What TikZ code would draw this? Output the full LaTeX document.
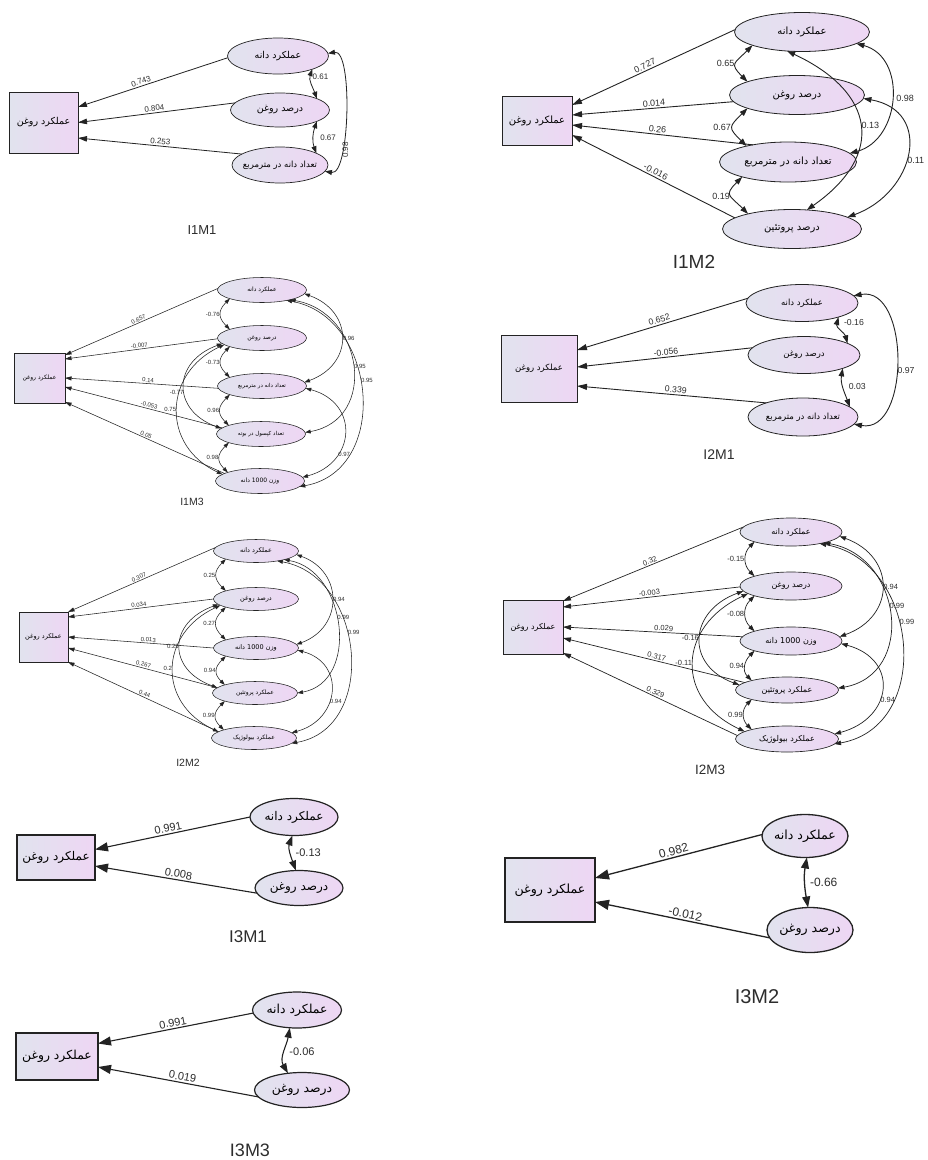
\documentclass[tikz,border=0pt]{standalone}
\usepackage{fontspec}
\setmainfont{Liberation Sans}
\newfontfamily\fa[Script=Arabic]{DejaVu Sans}
\TeXXeTstate=1
\usetikzlibrary{arrows.meta,shapes.geometric}
\definecolor{gA}{RGB}{225,227,238}
\definecolor{gB}{RGB}{238,214,244}
\definecolor{ln}{RGB}{35,35,35}
\definecolor{tx}{RGB}{45,45,45}
\newcommand{\fatx}[2]{\makebox[0pt]{\fa\fontsize{#1}{#1}\selectfont #2}}
\newcommand{\numfont}[1]{\fontsize{#1}{#1}\selectfont}
\tikzset{
  lat/.style 2 args={ellipse, draw=ln, left color=gA, right color=gB, minimum width=#1, minimum height=#2, inner sep=0pt, outer sep=0pt},
  obs/.style 2 args={rectangle, draw=ln, left color=gA, right color=gB, minimum width=#1, minimum height=#2, inner sep=0pt, outer sep=0pt},
  arw/.style 2 args={-{Triangle[length=#1,width=#2]}, draw=ln},
  carw/.style 2 args={{Triangle[length=#1,width=#2]}-{Triangle[length=#1,width=#2]}, draw=ln},
  ttl/.style={text=tx, inner sep=0pt},
}
\begin{document}
\begin{tikzpicture}[x=1pt,y=1pt]
\fill[white] (0,0) rectangle (928,-1160);
\useasboundingbox (0,0) rectangle (928,-1160);

% ---------------- I1M1
\begin{scope}[reg/.style={arw={9pt}{5.5pt}, line width=0.8pt}, cov/.style={carw={7pt}{5pt}, line width=0.8pt}, lab/.style={font=\numfont{8}, text=tx, inner sep=1.5pt}, lat/.append style={line width=0.7pt}, obs/.append style={line width=0.9pt}]
\node[obs={69pt}{61pt}] (a0) at (43.5,-122.5) {\fatx{9.5}{\beginR عملکرد روغن\endR}};
\node[lat={101pt}{36pt}] (a1) at (278,-56) {\fatx{9.5}{\beginR عملکرد دانه\endR}};
\node[lat={99pt}{34pt}] (a2) at (280,-110) {\fatx{9.5}{\beginR درصد روغن\endR}};
\node[lat={96pt}{36pt}] (a3) at (280,-165) {\fatx{8.5}{\beginR تعداد دانه در مترمربع\endR}};
\draw[reg] (a1.182) -- node[lab,sloped,above,pos=0.57]{0.743} ([yshift=15.5pt]a0.east);
\draw[reg] (a2.171) -- node[lab,sloped,above,pos=0.51]{0.804} (a0.east);
\draw[reg] (a3.164) -- node[lab,sloped,above,pos=0.5]{0.253} ([yshift=-15.5pt]a0.east);
\draw[cov] (a1.-21) to[out=-110,in=110] node[lab,right,pos=0.25]{0.61} (a2.17);
\draw[cov] (a2.-17) to[out=-110,in=110] node[lab,right,pos=0.5,xshift=5pt]{0.67} (a3.18);
\draw[cov] (a1.3) to[out=10,in=-10,looseness=0.55] node[lab,rotate=90,below,pos=0.72]{0.98} (a3.-8);
\node[ttl, font=\numfont{13}] (t1) at (202,-230) {I1M1};
\end{scope}

% ---------------- I1M2
\begin{scope}[reg/.style={arw={10pt}{6pt}, line width=0.9pt}, cov/.style={carw={8pt}{5.5pt}, line width=0.9pt}, lab/.style={font=\numfont{9}, text=tx, inner sep=1.5pt}, lat/.append style={line width=0.8pt}, obs/.append style={line width=1pt}]
\node[obs={70pt}{49pt}] (b0) at (537,-120.5) {\fatx{10}{\beginR عملکرد روغن\endR}};
\node[lat={135pt}{39pt}] (b1) at (802,-32) {\fatx{10}{\beginR عملکرد دانه\endR}};
\node[lat={135pt}{39pt}] (b2) at (797,-95) {\fatx{10}{\beginR درصد روغن\endR}};
\node[lat={137pt}{40pt}] (b3) at (788,-162) {\fatx{10}{\beginR تعداد دانه در مترمربع\endR}};
\node[lat={139pt}{39pt}] (b4) at (792,-229) {\fatx{10}{\beginR درصد پروتئین\endR}};
\draw[reg] (b1.178) -- node[lab,sloped,above,pos=0.54]{0.727} ([yshift=15.5pt]b0.east);
\draw[reg] (b2.186) -- node[lab,sloped,above,pos=0.49]{0.014} ([yshift=5.5pt]b0.east);
\draw[reg] (b3.154) -- node[lab,sloped,above,pos=0.53]{0.26} ([yshift=-4.5pt]b0.east);
\draw[reg] (b4.169) -- node[lab,sloped,above,pos=0.5]{-0.016} ([yshift=-14.5pt]b0.east);
\draw[cov] (b1.195) to[out=-135,in=135,looseness=1.8] node[lab,left,pos=0.5]{0.65} (b2.165);
\draw[cov] (b2.195) to[out=-135,in=135,looseness=1.8] node[lab,left,pos=0.5]{0.67} (b3.159);
\draw[cov] (b3.198) to[out=-135,in=135,looseness=1.8] node[lab,left,pos=0.55]{0.19} (b4.161);
\draw[cov] (b1.-12) to[out=-15,in=15,looseness=1.23] node[lab,right,pos=0.5,xshift=3pt]{0.98} (b3.8);
\draw[cov] (b2.-3) to[out=-10,in=20,looseness=1.53] node[lab,right,pos=0.55]{0.11} (b4.12);
\draw[cov] (b1.-128) to[out=-25,in=35,looseness=1.55] node[lab,right,pos=0.5]{0.13} (b4.52);
\node[ttl, font=\numfont{19}] (t2) at (694,-262) {I1M2};
\end{scope}

% ---------------- I1M3
\begin{scope}[reg/.style={arw={6.5pt}{4pt}, line width=0.55pt}, cov/.style={carw={5.5pt}{3.8pt}, line width=0.55pt}, lab/.style={font=\numfont{6}, text=tx, inner sep=1pt}, lat/.append style={line width=0.55pt}, obs/.append style={line width=0.7pt}]
\node[obs={51pt}{50pt}] (c0) at (39.5,-378) {\fatx{6}{\beginR عملکرد روغن\endR}};
\node[lat={89pt}{25pt}] (c1) at (262,-290) {\fatx{6}{\beginR عملکرد دانه\endR}};
\node[lat={89pt}{25pt}] (c2) at (262,-338) {\fatx{6}{\beginR درصد روغن\endR}};
\node[lat={89pt}{25pt}] (c3) at (262,-386) {\fatx{5.5}{\beginR تعداد دانه در مترمربع\endR}};
\node[lat={89pt}{25pt}] (c4) at (261,-434) {\fatx{5.5}{\beginR تعداد کپسول در بوته\endR}};
\node[lat={89pt}{25pt}] (c5) at (260,-481) {\fatx{6}{\beginR وزن \beginL 1000\endL{} دانه\endR}};
\draw[reg] (c1.178) -- node[lab,sloped,above,pos=0.51]{0.657} ([yshift=23pt]c0.east);
\draw[reg] (c2.181) -- node[lab,sloped,above,pos=0.51]{-0.007} ([yshift=19pt]c0.east);
\draw[reg] (c3.183) -- node[lab,sloped,above,pos=0.46]{0.14} (c0.east);
\draw[reg] (c4.171) -- node[lab,sloped,above,pos=0.47]{-0.053} ([yshift=-9pt]c0.east);
\draw[reg] (c5.168) -- node[lab,sloped,above,pos=0.5]{0.05} ([yshift=-24pt]c0.east);
\draw[cov] (c1.195) to[out=-135,in=135,looseness=1.4] node[lab,left,pos=0.5]{-0.76} (c2.165);
\draw[cov] (c2.195) to[out=-135,in=135,looseness=1.4] node[lab,left,pos=0.5]{-0.73} (c3.165);
\draw[cov] (c3.195) to[out=-135,in=135,looseness=1.4] node[lab,left,pos=0.5]{0.96} (c4.165);
\draw[cov] (c4.195) to[out=-135,in=135,looseness=1.4] node[lab,left,pos=0.5]{0.98} (c5.165);
\draw[cov] (c2.188) to[out=200,in=160,looseness=1.6] node[lab,left,pos=0.56]{-0.77} (c4.172);
\draw[cov] (c2.190) to[out=205,in=155,looseness=1.33] node[lab,left,pos=0.5]{0.75} (c5.170);
\draw[cov] (c1.-5) to[out=-20,in=20,looseness=1.52] node[lab,right,pos=0.5]{0.96} (c3.5);
\draw[cov] (c1.-19) to[out=-10,in=10,looseness=1.43] node[lab,right,pos=0.5]{0.95} (c4.2);
\draw[cov] (c1.-23) to[out=-10,in=10,looseness=1.27] node[lab,right,pos=0.45]{0.95} (c5.-8);
\draw[cov] (c3.-3) to[out=-15,in=15,looseness=1.6] node[lab,right,pos=0.7]{0.97} (c5.5);
\node[ttl, font=\numfont{10.5}] (t3) at (192,-502) {I1M3};
\end{scope}

% ---------------- I2M1
\begin{scope}[reg/.style={arw={10pt}{6pt}, line width=0.9pt}, cov/.style={carw={8pt}{5.5pt}, line width=0.9pt}, lab/.style={font=\numfont{8.7}, text=tx, inner sep=1.5pt}, lat/.append style={line width=0.8pt}, obs/.append style={line width=1pt}]
\node[obs={76pt}{67pt}] (d0) at (539,-368.5) {\fatx{8.5}{\beginR عملکرد روغن\endR}};
\node[lat={112pt}{37pt}] (d1) at (802,-303) {\fatx{8.5}{\beginR عملکرد دانه\endR}};
\node[lat={112pt}{37pt}] (d2) at (804,-355) {\fatx{8.5}{\beginR درصد روغن\endR}};
\node[lat={110pt}{38pt}] (d3) at (803,-417) {\fatx{8.5}{\beginR تعداد دانه در مترمربع\endR}};
\draw[reg] (d1.175) -- node[lab,sloped,above,pos=0.51]{0.652} ([yshift=18.5pt]d0.east);
\draw[reg] (d2.172) -- node[lab,sloped,above,pos=0.49]{-0.056} ([yshift=1.5pt]d0.east);
\draw[reg] (d3.159) -- node[lab,sloped,above,pos=0.48]{0.339} ([yshift=-17.5pt]d0.east);
\draw[cov] (d1.-21.5) to[out=-105,in=105] node[lab,right,pos=0.2,xshift=4pt]{-0.16} (d2.15);
\draw[cov] (d2.-19) to[out=-100,in=110] node[lab,right,pos=0.45,xshift=4pt]{0.03} (d3.12);
\draw[cov] (d1.8) to[out=10,in=-10,looseness=1.14] node[lab,right,pos=0.55]{0.97} (d3.-8);
\node[ttl, font=\numfont{14}] (t4) at (719,-455) {I2M1};
\end{scope}

% ---------------- I2M2
\begin{scope}[reg/.style={arw={6.5pt}{4pt}, line width=0.55pt}, cov/.style={carw={5.5pt}{3.8pt}, line width=0.55pt}, lab/.style={font=\numfont{6}, text=tx, inner sep=1pt}, lat/.append style={line width=0.55pt}, obs/.append style={line width=0.7pt}]
\node[obs={49pt}{50pt}] (f0) at (43.5,-637) {\fatx{6.5}{\beginR عملکرد روغن\endR}};
\node[lat={85pt}{23pt}] (f1) at (256,-551) {\fatx{6.5}{\beginR عملکرد دانه\endR}};
\node[lat={85pt}{23pt}] (f2) at (256,-599) {\fatx{6.5}{\beginR درصد روغن\endR}};
\node[lat={85pt}{23pt}] (f3) at (256,-648) {\fatx{6.5}{\beginR وزن \beginL 1000\endL{} دانه\endR}};
\node[lat={85pt}{23pt}] (f4) at (255,-693) {\fatx{6}{\beginR عملکرد پروتئین\endR}};
\node[lat={85pt}{23pt}] (f5) at (254,-738) {\fatx{6}{\beginR عملکرد بیولوژیک\endR}};
\draw[reg] (f1.175) -- node[lab,sloped,above,pos=0.51]{0.307} ([yshift=25pt]f0.east);
\draw[reg] (f2.180) -- node[lab,sloped,above,pos=0.51]{0.034} ([yshift=20pt]f0.east);
\draw[reg] (f3.180) -- node[lab,sloped,above,pos=0.45]{0.013} (f0.east);
\draw[reg] (f4.172) -- node[lab,sloped,above,pos=0.5]{0.267} ([yshift=-11pt]f0.east);
\draw[reg] (f5.170) -- node[lab,sloped,above,pos=0.5]{0.44} ([yshift=-25pt]f0.east);
\draw[cov] (f1.195) to[out=-135,in=135,looseness=1.4] node[lab,left,pos=0.5]{0.25} (f2.165);
\draw[cov] (f2.195) to[out=-135,in=135,looseness=1.4] node[lab,left,pos=0.5]{0.27} (f3.165);
\draw[cov] (f3.195) to[out=-135,in=135,looseness=1.4] node[lab,left,pos=0.5]{0.94} (f4.165);
\draw[cov] (f4.195) to[out=-135,in=135,looseness=1.4] node[lab,left,pos=0.5]{0.99} (f5.165);
\draw[cov] (f2.188) to[out=200,in=160,looseness=1.64] node[lab,left,pos=0.5]{0.25} (f4.172);
\draw[cov] (f2.190) to[out=205,in=155,looseness=1.37] node[lab,left,pos=0.5]{0.2} (f5.170);
\draw[cov] (f1.-5) to[out=-20,in=20,looseness=1.43] node[lab,right,pos=0.5]{0.94} (f3.5);
\draw[cov] (f1.-17) to[out=-10,in=10,looseness=1.21] node[lab,right,pos=0.45]{0.99} (f4.0);
\draw[cov] (f1.-25) to[out=-10,in=10,looseness=1.24] node[lab,right,pos=0.42]{0.99} (f5.-8);
\draw[cov] (f3.-3) to[out=-15,in=15,looseness=1.55] node[lab,right,pos=0.6]{0.94} (f5.8);
\node[ttl, font=\numfont{10.5}] (t5) at (188,-763) {I2M2};
\end{scope}

% ---------------- I2M3
\begin{scope}[reg/.style={arw={8pt}{5pt}, line width=0.7pt}, cov/.style={carw={6.5pt}{4.5pt}, line width=0.7pt}, lab/.style={font=\numfont{7.5}, text=tx, inner sep=1.2pt}, lat/.append style={line width=0.65pt}, obs/.append style={line width=0.8pt}]
\node[obs={60pt}{54pt}] (g0) at (533,-627) {\fatx{8}{\beginR عملکرد روغن\endR}};
\node[lat={102pt}{28pt}] (g1) at (791,-532) {\fatx{8}{\beginR عملکرد دانه\endR}};
\node[lat={102pt}{28pt}] (g2) at (791,-586) {\fatx{8}{\beginR درصد روغن\endR}};
\node[lat={102pt}{28pt}] (g3) at (791,-641) {\fatx{8}{\beginR وزن \beginL 1000\endL{} دانه\endR}};
\node[lat={103pt}{26pt}] (g4) at (787,-690) {\fatx{8}{\beginR عملکرد پروتئین\endR}};
\node[lat={103pt}{26pt}] (g5) at (787,-739) {\fatx{8}{\beginR عملکرد بیولوژیک\endR}};
\draw[reg] (g1.174) -- node[lab,sloped,above,pos=0.51]{0.32} ([yshift=26pt]g0.east);
\draw[reg] (g2.181) -- node[lab,sloped,above,pos=0.51]{-0.003} ([yshift=20pt]g0.east);
\draw[reg] (g3.175) -- node[lab,sloped,above,pos=0.44]{0.029} (g0.east);
\draw[reg] (g4.170) -- node[lab,sloped,above,pos=0.49]{0.317} ([yshift=-11pt]g0.east);
\draw[reg] (g5.176) -- node[lab,sloped,above,pos=0.48]{0.329} ([yshift=-26pt]g0.east);
\draw[cov] (g1.195) to[out=-135,in=135,looseness=1.2] node[lab,left,pos=0.5]{-0.15} (g2.165);
\draw[cov] (g2.195) to[out=-135,in=135,looseness=1.2] node[lab,left,pos=0.5]{-0.08} (g3.165);
\draw[cov] (g3.195) to[out=-135,in=135,looseness=1.2] node[lab,left,pos=0.5]{0.94} (g4.165);
\draw[cov] (g4.195) to[out=-135,in=135,looseness=1.2] node[lab,left,pos=0.5]{0.99} (g5.165);
\draw[cov] (g2.186) to[out=200,in=160,looseness=1.58] node[lab,left,pos=0.5]{-0.16} (g4.174);
\draw[cov] (g2.190) to[out=205,in=155,looseness=1.44] node[lab,left,pos=0.5]{-0.11} (g5.170);
\draw[cov] (g1.-5) to[out=-20,in=20,looseness=1.53] node[lab,right,pos=0.5]{0.94} (g3.5);
\draw[cov] (g1.-18) to[out=-10,in=10,looseness=1.39] node[lab,right,pos=0.45]{0.99} (g4.2);
\draw[cov] (g1.-22) to[out=-10,in=10,looseness=1.29] node[lab,right,pos=0.42]{0.99} (g5.-6);
\draw[cov] (g3.-3) to[out=-15,in=15,looseness=1.71] node[lab,right,pos=0.6]{0.94} (g5.6);
\node[ttl, font=\numfont{13.5}] (t6) at (710,-770) {I2M3};
\end{scope}

% ---------------- I3M1
\begin{scope}[reg/.style={arw={13pt}{9pt}, line width=1.1pt}, cov/.style={carw={10pt}{7pt}, line width=1.1pt}, lab/.style={font=\numfont{11}, text=tx, inner sep=1.5pt}, lat/.append style={line width=1.2pt}, obs/.append style={line width=1.8pt}]
\node[obs={78pt}{45pt}] (h0) at (56,-857.5) {\fatx{12}{\beginR عملکرد روغن\endR}};
\node[lat={88pt}{37pt}] (h1) at (294,-817) {\fatx{12}{\beginR عملکرد دانه\endR}};
\node[lat={88pt}{35pt}] (h2) at (299,-888) {\fatx{12}{\beginR درصد روغن\endR}};
\draw[reg] (h1.180) -- node[lab,sloped,above,pos=0.52]{0.991} ([yshift=8pt]h0.east);
\draw[reg] (h2.187) -- node[lab,sloped,above,pos=0.49]{0.008} ([yshift=-8.5pt]h0.east);
\draw[cov] (h1.-95) to[out=-110,in=110] node[lab,right,pos=0.5,xshift=3pt]{-0.13} (h2.100);
\node[ttl, font=\numfont{17}] (t7) at (248,-937) {I3M1};
\end{scope}

% ---------------- I3M3
\begin{scope}[reg/.style={arw={13pt}{9pt}, line width=1.1pt}, cov/.style={carw={10pt}{7pt}, line width=1.1pt}, lab/.style={font=\numfont{11}, text=tx, inner sep=1.5pt}, lat/.append style={line width=1.2pt}, obs/.append style={line width=1.8pt}]
\node[obs={82pt}{47pt}] (k0) at (57,-1056.5) {\fatx{12.4}{\beginR عملکرد روغن\endR}};
\node[lat={89pt}{36pt}] (k1) at (297,-1010) {\fatx{12.4}{\beginR عملکرد دانه\endR}};
\node[lat={95pt}{35pt}] (k2) at (302,-1090) {\fatx{12.4}{\beginR درصد روغن\endR}};
\draw[reg] (k1.184) -- node[lab,sloped,above,pos=0.51]{0.991} ([yshift=13pt]k0.east);
\draw[reg] (k2.189) -- node[lab,sloped,above,pos=0.48]{0.019} ([yshift=-10.5pt]k0.east);
\draw[cov] (k1.-112) to[out=-100,in=120] node[lab,right,pos=0.5,xshift=3pt]{-0.06} (k2.130);
\node[ttl, font=\numfont{18}] (t8) at (250,-1150) {I3M3};
\end{scope}

% ---------------- I3M2
\begin{scope}[reg/.style={arw={14pt}{10pt}, line width=1.3pt}, cov/.style={carw={11pt}{8pt}, line width=1.3pt}, lab/.style={font=\numfont{12}, text=tx, inner sep=1.5pt}, lat/.append style={line width=1.3pt}, obs/.append style={line width=1.8pt}]
\node[obs={90pt}{64pt}] (m0) at (550,-890) {\fatx{12.6}{\beginR عملکرد روغن\endR}};
\node[lat={86pt}{43pt}] (m1) at (805,-836) {\fatx{12.6}{\beginR عملکرد دانه\endR}};
\node[lat={86pt}{45pt}] (m2) at (810,-930) {\fatx{12.6}{\beginR درصد روغن\endR}};
\draw[reg] (m1.178) -- node[lab,sloped,above,pos=0.52]{0.982} ([yshift=12pt]m0.east);
\draw[reg] (m2.191) -- node[lab,sloped,above,pos=0.49]{-0.012} ([yshift=-12pt]m0.east);
\draw[cov] (m1.-85) to[out=-100,in=100] node[lab,right,pos=0.5,xshift=3pt]{-0.66} (m2.95);
\node[ttl, font=\numfont{20}] (t9) at (757,-997) {I3M2};
\end{scope}
\end{tikzpicture}
\end{document}
